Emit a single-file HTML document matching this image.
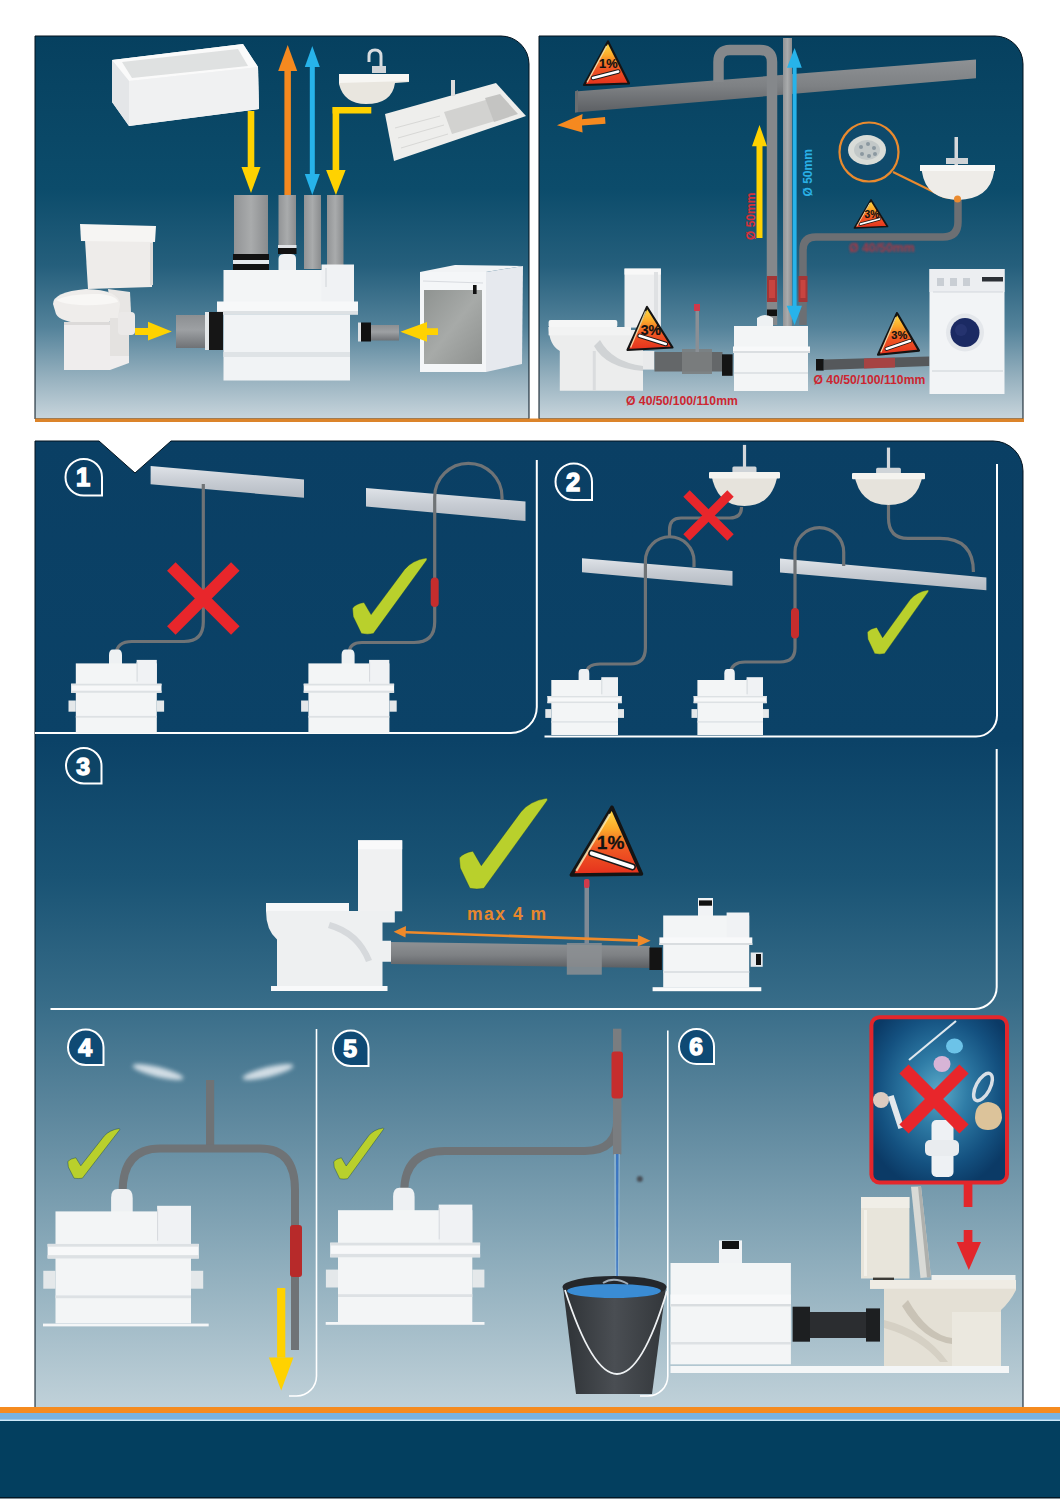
<!DOCTYPE html><html><head><meta charset="utf-8"><style>html,body{margin:0;padding:0;background:#fff;}svg{display:block;}</style></head><body>
<svg width="1060" height="1500" viewBox="0 0 1060 1500">
<defs>
<linearGradient id="bgTop" x1="0" y1="0" x2="0" y2="1">
 <stop offset="0" stop-color="#06405f"/>
 <stop offset="0.40" stop-color="#0c4c6b"/>
 <stop offset="0.60" stop-color="#255f7c"/>
 <stop offset="0.76" stop-color="#53829a"/>
 <stop offset="0.89" stop-color="#95b0be"/>
 <stop offset="1" stop-color="#c8d5dc"/>
</linearGradient>
<linearGradient id="bgLow" x1="0" y1="440" x2="0" y2="1408" gradientUnits="userSpaceOnUse">
 <stop offset="0" stop-color="#0a3f64"/>
 <stop offset="0.31" stop-color="#0b4267"/>
 <stop offset="0.45" stop-color="#195374"/>
 <stop offset="0.58" stop-color="#376c88"/>
 <stop offset="0.70" stop-color="#5e889e"/>
 <stop offset="0.85" stop-color="#8eadbc"/>
 <stop offset="1" stop-color="#c0d1d9"/>
</linearGradient>
<linearGradient id="trig" x1="0" y1="0" x2="0" y2="1">
 <stop offset="0" stop-color="#ffe04a"/>
 <stop offset="0.32" stop-color="#fba92a"/>
 <stop offset="0.6" stop-color="#f05a24"/>
 <stop offset="1" stop-color="#e5301d"/>
</linearGradient>
<linearGradient id="pipeV" x1="0" y1="0" x2="1" y2="0">
 <stop offset="0" stop-color="#929496"/>
 <stop offset="0.5" stop-color="#a9abac"/>
 <stop offset="1" stop-color="#8a8c8e"/>
</linearGradient>
<linearGradient id="pipeH" x1="0" y1="0" x2="0" y2="1">
 <stop offset="0" stop-color="#8c8f92"/>
 <stop offset="0.45" stop-color="#9da0a3"/>
 <stop offset="1" stop-color="#6f7276"/>
</linearGradient>
<linearGradient id="beam" x1="0" y1="0" x2="0" y2="1">
 <stop offset="0" stop-color="#dfe3e8"/>
 <stop offset="0.5" stop-color="#c7ccd3"/>
 <stop offset="1" stop-color="#b5bbc3"/>
</linearGradient>
<radialGradient id="inset" cx="0.5" cy="0.45" r="0.6">
 <stop offset="0" stop-color="#5aa9c8"/>
 <stop offset="0.35" stop-color="#2f7ca6"/>
 <stop offset="0.75" stop-color="#145180"/>
 <stop offset="1" stop-color="#0b3a66"/>
</radialGradient>
<linearGradient id="dwdoor" x1="0" y1="0" x2="1" y2="1">
 <stop offset="0" stop-color="#8f9391"/>
 <stop offset="0.5" stop-color="#a7aaa8"/>
 <stop offset="1" stop-color="#8e918f"/>
</linearGradient>
<linearGradient id="pipeH2" x1="0" y1="0" x2="0" y2="1">
 <stop offset="0" stop-color="#8e9194"/>
 <stop offset="0.5" stop-color="#7e8184"/>
 <stop offset="1" stop-color="#5c5f63"/>
</linearGradient>
<filter id="blur2" x="-50%" y="-50%" width="200%" height="200%"><feGaussianBlur stdDeviation="2.2"/></filter>
<filter id="blur1" x="-50%" y="-50%" width="200%" height="200%"><feGaussianBlur stdDeviation="0.8"/></filter>
<linearGradient id="bucket" x1="0" y1="0" x2="1" y2="0">
 <stop offset="0" stop-color="#2e3236"/>
 <stop offset="0.5" stop-color="#4a4e53"/>
 <stop offset="1" stop-color="#33373b"/>
</linearGradient>
</defs>
<path d="M35,36 L501,36 A28,28 0 0 1 529,64 L529,419 L35,419 Z" fill="url(#bgTop)" stroke="#02121e" stroke-width="1"/>
<polygon points="112,60 243,44 258,67 259,109 129,126 112,102" fill="#f3f4f4"/>
<polygon points="112,60 243,44 258,67 129,81" fill="#fafafa"/>
<polygon points="122,62 238,49 248,66 132,78" fill="#dfe1e1"/>
<polygon points="112,60 129,81 129,126 112,102" fill="#e4e6e8"/>
<polygon points="129,81 258,67 259,109 129,126" fill="#f0f1f2"/>
<rect x="247.7" y="111.0" width="6.6" height="56.0" fill="#ffd200"/><polygon points="241.5,167.0 251.0,193.0 260.5,167.0" fill="#ffd200"/>
<rect x="284.4" y="71.0" width="6.5" height="125.0" fill="#f5891f"/><polygon points="278.2,71.0 287.7,45.0 297.2,71.0" fill="#f5891f"/>
<rect x="309.8" y="67.0" width="5.0" height="107.0" fill="#27b3ea"/><polygon points="304.8,67.0 312.3,46.0 319.8,67.0" fill="#27b3ea"/><polygon points="304.8,174.0 312.3,195.0 319.8,174.0" fill="#27b3ea"/>
<rect x="332.6" y="107" width="38.7" height="6.5" fill="#ffd200"/>
<rect x="332.6" y="107.0" width="6.6" height="63.0" fill="#ffd200"/><polygon points="326.1,170.0 335.9,195.0 345.6,170.0" fill="#ffd200"/>
<path d="M369,62 L369,56 Q369,50 375,50 Q381,50 381,56 L381,70" fill="none" stroke="#d8dcdf" stroke-width="3"/>
<rect x="372" y="66" width="14" height="7" fill="#d0d4d8"/>
<path d="M339,76 L409,75 L409,82 L395,83 Q392,104 366,104 Q344,104 339,84 Z" fill="#e9e6df"/>
<path d="M339,74 L409,74 L409,81 L339,83 Z" fill="#f7f6f3"/>
<polygon points="385,114 496,83 526,116 394,161" fill="#eeeeec"/>
<polygon points="444,112 496,97 505,118 452,134" fill="#d2d2d0"/>
<polygon points="485,98 500,94 518,114 494,122" fill="#c4c4c2"/>
<rect x="451" y="80" width="4" height="16" fill="#dcdcdc"/>
<line x1="395" y1="128" x2="440" y2="116" stroke="#d8d8d6" stroke-width="1"/>
<line x1="398" y1="138" x2="444" y2="125" stroke="#d8d8d6" stroke-width="1"/>
<line x1="401" y1="148" x2="448" y2="134" stroke="#d8d8d6" stroke-width="1"/>
<rect x="234" y="195" width="34" height="59" fill="url(#pipeV)"/>
<rect x="233" y="254" width="36" height="6" fill="#121212"/><rect x="233" y="260" width="36" height="4" fill="#e6e9ec"/><rect x="233" y="264" width="36" height="6" fill="#121212"/>
<rect x="278.5" y="195" width="17.5" height="50" fill="url(#pipeV)"/>
<rect x="278" y="245" width="18.5" height="3" fill="#e0e3e6"/><rect x="278" y="248" width="18.5" height="6" fill="#111"/>
<path d="M278.5,270 L278.5,259 Q278.5,254 284,254 L291,254 Q296,254 296,259 L296,270 Z" fill="#eef1f3"/>
<rect x="304" y="195" width="17" height="74" fill="url(#pipeV)"/>
<rect x="327" y="195" width="16.5" height="70" fill="url(#pipeV)"/>
<rect x="223.5" y="270" width="130.5" height="32" fill="#f3f5f6"/>
<rect x="321.5" y="264.5" width="32.5" height="37" fill="#f0f2f4"/>
<line x1="326" y1="268" x2="326" y2="287" stroke="#d0d4d8" stroke-width="1"/>
<rect x="217" y="301.5" width="141" height="13" fill="#f7f8f9"/>
<rect x="217" y="311" width="141" height="3.5" fill="#dde1e4"/>
<rect x="223.5" y="314.5" width="126.5" height="66" fill="#f1f3f5"/>
<rect x="223.5" y="352" width="126.5" height="5" fill="#dfe3e6"/>
<rect x="176" y="315" width="30" height="33" fill="url(#pipeH)"/>
<rect x="205" y="312" width="4" height="38" fill="#e5e8ea"/><rect x="209" y="312" width="14" height="38" fill="#161616"/>
<rect x="358" y="322.5" width="3" height="19" fill="#e0e3e6"/><rect x="361" y="322.5" width="10" height="19" fill="#111"/>
<rect x="371" y="325" width="28" height="15.5" fill="url(#pipeH)"/>
<polygon points="135,328 148,328 148,321.7 171.8,331.5 148,340.6 148,335 135,335" fill="#ffd200"/>
<path d="M85,240 L153,240 L152,287 L88,289 Z" fill="#eeecea"/>
<path d="M80,224 L156,226 L155,242 L81,241 Z" fill="#f6f5f3"/>
<rect x="150" y="243" width="3" height="42" fill="#dddbd9"/>
<path d="M108,289 L130,292 L131,312 L112,318 Z" fill="#e8e6e4"/>
<path d="M53,304 Q53,292 86,289 Q119,290 120,304 L118,318 Q110,324 86,324 Q60,322 56,314 Z" fill="#efedeb"/>
<path d="M56,300 Q70,293 100,294 Q117,296 118,302 Q100,306 80,305 Q62,304 56,300 Z" fill="#f8f7f5"/>
<path d="M64,322 L110,322 L110,356 L129,354 L129,363 L110,370 L64,370 Z" fill="#efeded"/>
<rect x="110" y="318" width="19" height="38" fill="#e4e2e0"/>
<rect x="118" y="312" width="17" height="23" rx="4" fill="#ebe9e8"/>
<rect x="64" y="322" width="46" height="3" fill="#dcdad9"/>
<polygon points="420,272 455,265 523,266 486,272" fill="#f1f3f5"/>
<polygon points="486,272 523,266 522,364 486,372" fill="#e6e9ee"/>
<rect x="420" y="272" width="66" height="100" fill="#f4f6f8"/>
<rect x="424" y="290" width="58" height="74" fill="#9b9e9d"/>
<rect x="424" y="290" width="58" height="74" fill="url(#dwdoor)"/>
<rect x="473" y="285" width="3.6" height="9" fill="#111"/>
<line x1="423" y1="281" x2="483" y2="283" stroke="#d8dbe0" stroke-width="1"/>
<polygon points="400.4,331.7 427,322 427,328.3 438,328.3 438,335 427,335 427,341.8" fill="#ffd200"/>
<path d="M539,36 L995,36 A28,28 0 0 1 1023,64 L1023,419 L539,419 Z" fill="url(#bgTop)" stroke="#02121e" stroke-width="1"/>
<rect x="35" y="418.5" width="989" height="3.5" fill="#dc842a"/>
<polygon points="575,91.5 976,59.5 976,78.3 575,112.6" fill="url(#pipeH2)"/>
<polygon points="575,91.5 578,90 578,112 575,112.6" fill="#6a6d70"/>
<path d="M718.5,82 L718.5,62 Q718.5,50 730,50 L760,50 Q772,50 772,62 L772,325" fill="none" stroke="#85888b" stroke-width="10.5"/>
<rect x="783" y="38" width="9" height="288" fill="url(#pipeV)"/>
<path d="M958,199 L958,222 Q958,237 943,237 L816,237 Q803,237 803,250 L803,325" fill="none" stroke="#6c6f73" stroke-width="7.5"/>
<rect x="767" y="276" width="10" height="26" fill="#a33636"/><rect x="769" y="280" width="6" height="18" fill="#c8443f"/>
<rect x="798.5" y="276" width="9" height="26" fill="#a33636"/><rect x="800.5" y="280" width="5" height="18" fill="#c8443f"/>
<rect x="767" y="309.5" width="10" height="6.5" fill="#111"/>
<rect x="792.6" y="67" width="4" height="240" fill="#27b3ea"/>
<polygon points="787,67.7 794.6,48 801.8,67.7" fill="#27b3ea"/>
<polygon points="786.7,305.7 794.6,325 802,305.7" fill="#27b3ea"/>
<rect x="756.5" y="145" width="6" height="93" fill="#ffd200"/>
<polygon points="752,146.2 759.5,125 767,146.2" fill="#ffd200"/>
<text transform="translate(754.5,240) rotate(-90)" font-family="Liberation Sans" font-weight="bold" font-size="12" fill="#d8313a">Ø 50mm</text>
<text transform="translate(811.5,196.5) rotate(-90)" font-family="Liberation Sans" font-weight="bold" font-size="12" fill="#2ab0e6">Ø 50mm</text>
<polygon points="557,125.3 582.6,114 582,119.2 605,117 605.5,123.7 582,125.5 582.6,132.4" fill="#f5891f"/>
<polygon points="608,41.5 584,85 629,83.5" fill="url(#trig)" stroke="#141414" stroke-width="2.2" stroke-linejoin="round"/>
<line x1="606.6" y1="45.9" x2="587.1" y2="82.4" stroke="#fff3c0" stroke-width="1.3" opacity="0.8"/>
<text x="608.3" y="67.7" font-family="Liberation Sans" font-weight="bold" font-size="12.8" fill="#111" stroke="#111" stroke-width="0.19" text-anchor="middle">1%</text>
<line x1="593.0" y1="78.0" x2="618.2" y2="71.5" stroke="#1a1a1a" stroke-width="4.5" stroke-linecap="round"/>
<line x1="593.0" y1="78.0" x2="618.2" y2="71.5" stroke="#fff" stroke-width="2.5" stroke-linecap="round"/>
<circle cx="869" cy="152" r="29.5" fill="#0f4a6c" stroke="#ea8a2e" stroke-width="2.2"/>
<ellipse cx="867" cy="150" rx="19" ry="15" fill="#d9dcd8"/>
<ellipse cx="867" cy="150" rx="13" ry="10" fill="#c2c8c8"/>
<g fill="#8b98a0"><circle cx="861" cy="147" r="2"/><circle cx="868" cy="144" r="2"/><circle cx="874" cy="148" r="2"/><circle cx="862" cy="154" r="2"/><circle cx="869" cy="156" r="2"/><circle cx="875" cy="154" r="2"/></g>
<line x1="893" y1="172" x2="944" y2="197" stroke="#ea8a2e" stroke-width="2"/>
<line x1="944" y1="197" x2="957" y2="199" stroke="#ea8a2e" stroke-width="2"/>
<rect x="954.5" y="137" width="3.5" height="30" fill="#d6d9dc"/><rect x="946" y="158" width="22" height="6" fill="#cfd3d6"/>
<path d="M921,166 L994,166 L994,172 Q990,199 958,200 Q926,199 922,172 Z" fill="#eeece8"/>
<rect x="920" y="165" width="75" height="6" fill="#f8f8f6"/>
<circle cx="957.5" cy="199" r="3.5" fill="#ea8a2e"/>
<text x="849" y="251.5" font-family="Liberation Sans" font-weight="bold" font-size="12.3" fill="#c8303a" opacity="0.85" filter="url(#blur1)">Ø 40/50mm</text>
<text x="626" y="405.3" font-family="Liberation Sans" font-weight="bold" font-size="12.2" fill="#cc2630">Ø 40/50/100/110mm</text>
<text x="813.5" y="384.3" font-family="Liberation Sans" font-weight="bold" font-size="12.2" fill="#cc2630">Ø 40/50/100/110mm</text>
<rect x="624.5" y="268.6" width="36.4" height="59" fill="#eeeff0"/>
<rect x="624.5" y="268.6" width="36.4" height="6" fill="#f8f8f8"/>
<rect x="654" y="272" width="4" height="52" fill="#dfe1e3"/>
<rect x="548.6" y="320" width="68.7" height="7.4" rx="2" fill="#f5f6f6"/>
<path d="M548.6,327 L631,327 L631,330 L643,330 L643,390.8 L559.8,390.8 L559.8,351 Q549,345 548.6,327 Z" fill="#eceded"/>
<rect x="548.6" y="327" width="82.4" height="8.3" fill="#f2f3f3"/>
<path d="M600,340 Q612,362 643,366 L643,371 Q606,368 594,346 Z" fill="#d0d3d5"/>
<rect x="592.8" y="351" width="3" height="39.8" fill="#dadcde"/>
<rect x="643" y="351" width="11.3" height="18.6" fill="#e9eaeb"/>
<rect x="654.5" y="352" width="68" height="19.5" fill="#646769"/>
<rect x="682" y="349" width="30" height="25" fill="#7b7e80" opacity="0.9"/>
<rect x="695.5" y="306" width="3.5" height="46" fill="#8a8f95"/>
<rect x="694" y="304" width="6" height="7" fill="#d0394a"/>
<rect x="722" y="354.3" width="10.6" height="21.5" fill="#141414"/>
<rect x="734" y="326" width="74" height="65" fill="#f3f5f6"/>
<rect x="733" y="346.5" width="77" height="6.5" fill="#f8f9fa"/><rect x="733" y="351" width="77" height="2" fill="#dadee1"/>
<rect x="734" y="372" width="74" height="2" fill="#dfe3e6"/>
<path d="M757,326 L757,318 Q765,312 773,318 L773,326 Z" fill="#eef1f3"/>
<polygon points="823.7,359.5 929.4,356.6 929.4,366 823.7,370" fill="#55585b"/>
<polygon points="864,358.5 895,357.7 895,367.5 864,368.6" fill="#b54040" opacity="0.85"/>
<rect x="816" y="359" width="7.7" height="11.6" fill="#141414"/>
<rect x="929.5" y="269" width="75" height="125" fill="#f2f4f6"/>
<rect x="929.5" y="269" width="75" height="23" fill="#eceef1"/>
<rect x="982" y="277" width="21" height="4.5" fill="#2b2f35"/>
<g fill="#c9ced4"><rect x="937" y="278" width="7" height="8"/><rect x="950" y="278" width="7" height="8"/><rect x="963" y="278" width="7" height="8"/></g>
<line x1="933" y1="292" x2="1003" y2="292" stroke="#d3d7dc" stroke-width="1"/>
<circle cx="965" cy="332.5" r="19" fill="#e4e7eb"/><circle cx="965" cy="332.5" r="14.5" fill="#1b2a63"/><circle cx="961" cy="330" r="6" fill="#2d3b78" opacity="0.6"/>
<rect x="932" y="370" width="71" height="2" fill="#dfe3e6"/>
<polygon points="871,200 854.5,228 887.5,226.5" fill="url(#trig)" stroke="#141414" stroke-width="1.7" stroke-linejoin="round"/>
<line x1="870.0" y1="202.8" x2="856.8" y2="226.3" stroke="#fff3c0" stroke-width="1.0" opacity="0.8"/>
<text x="872.0" y="217.7" font-family="Liberation Sans" font-weight="bold" font-size="10.3" fill="#111" stroke="#111" stroke-width="0.15" text-anchor="middle">3%</text>
<line x1="860.4" y1="224.1" x2="879.6" y2="219.0" stroke="#1a1a1a" stroke-width="3.3" stroke-linecap="round"/>
<line x1="860.4" y1="224.1" x2="879.6" y2="219.0" stroke="#fff" stroke-width="1.8" stroke-linecap="round"/>
<polygon points="647,307 627.5,350 672.5,347.5" fill="url(#trig)" stroke="#141414" stroke-width="2.2" stroke-linejoin="round"/>
<line x1="645.6" y1="311.3" x2="630.6" y2="347.4" stroke="#fff3c0" stroke-width="1.3" opacity="0.8"/>
<text x="650.9" y="334.8" font-family="Liberation Sans" font-weight="bold" font-size="14" fill="#111" stroke="#111" stroke-width="0.21" text-anchor="middle">3%</text>
<line x1="639.6" y1="335.8" x2="665.8" y2="344.0" stroke="#1a1a1a" stroke-width="4.5" stroke-linecap="round"/>
<line x1="639.6" y1="335.8" x2="665.8" y2="344.0" stroke="#fff" stroke-width="2.5" stroke-linecap="round"/>
<polygon points="897,313 878,354.7 919,350.6" fill="url(#trig)" stroke="#141414" stroke-width="2.1" stroke-linejoin="round"/>
<line x1="895.8" y1="317.2" x2="880.9" y2="352.2" stroke="#fff3c0" stroke-width="1.2" opacity="0.8"/>
<text x="899.3" y="338.6" font-family="Liberation Sans" font-weight="bold" font-size="11" fill="#111" stroke="#111" stroke-width="0.16" text-anchor="middle">3%</text>
<line x1="886.6" y1="348.9" x2="910.0" y2="340.9" stroke="#1a1a1a" stroke-width="4.1" stroke-linecap="round"/>
<line x1="886.6" y1="348.9" x2="910.0" y2="340.9" stroke="#fff" stroke-width="2.3" stroke-linecap="round"/>
<path d="M35,441 L99,441 L135,473 L171,441 L993,441 A30,30 0 0 1 1023,471 L1023,1408 L35,1408 Z" fill="url(#bgLow)" stroke="#02121e" stroke-width="1"/>
<path d="M536.8,460 L536.8,707 A26,26 0 0 1 510.8,733 L35,733" fill="none" stroke="#fff" stroke-width="2"/>
<path d="M997,464 L997,715.5 A21,21 0 0 1 976,736.5 L544.5,736.5" fill="none" stroke="#fff" stroke-width="2"/>
<path d="M996.7,749 L996.7,987 A22,22 0 0 1 974.7,1009 L50.5,1009" fill="none" stroke="#fff" stroke-width="2"/>
<path d="M316.5,1029 L316.5,1376 A20,20 0 0 1 296.5,1396 L289,1396" fill="none" stroke="#fff" stroke-width="1.6"/>
<path d="M667.8,1030.5 L667.8,1376 A20,20 0 0 1 647.8,1396 L640,1396" fill="none" stroke="#fff" stroke-width="1.6"/>
<path d="M65.5,477.2 A18.2,18.2 0 0 1 83.8,459.0 A18.2,18.2 0 0 1 102.0,477.2 L102.0,495.5 L83.8,495.5 A18.2,18.2 0 0 1 65.5,477.2 Z" fill="none" stroke="#fff" stroke-width="2"/><text x="83.2" y="486.4" font-family="Liberation Sans" font-weight="bold" font-size="25.5" fill="#fff" stroke="#fff" stroke-width="1.4" text-anchor="middle">1</text>
<path d="M555.5,481.8 A18.2,18.2 0 0 1 573.8,463.5 A18.2,18.2 0 0 1 592.0,481.8 L592.0,500.0 L573.8,500.0 A18.2,18.2 0 0 1 555.5,481.8 Z" fill="none" stroke="#fff" stroke-width="2"/><text x="573.2" y="490.9" font-family="Liberation Sans" font-weight="bold" font-size="25.5" fill="#fff" stroke="#fff" stroke-width="1.4" text-anchor="middle">2</text>
<path d="M66.0,765.8 A17.8,17.8 0 0 1 83.8,748.0 A17.8,17.8 0 0 1 101.5,765.8 L101.5,783.5 L83.8,783.5 A17.8,17.8 0 0 1 66.0,765.8 Z" fill="#0d4466" stroke="#fff" stroke-width="2"/><text x="83.2" y="774.7" font-family="Liberation Sans" font-weight="bold" font-size="24.8" fill="#fff" stroke="#fff" stroke-width="1.4" text-anchor="middle">3</text>
<path d="M68.0,1047.2 A17.8,17.8 0 0 1 85.8,1029.5 A17.8,17.8 0 0 1 103.5,1047.2 L103.5,1065.0 L85.8,1065.0 A17.8,17.8 0 0 1 68.0,1047.2 Z" fill="#0f4a74" stroke="#fff" stroke-width="2"/><text x="85.2" y="1056.2" font-family="Liberation Sans" font-weight="bold" font-size="24.8" fill="#fff" stroke="#fff" stroke-width="1.4" text-anchor="middle">4</text>
<path d="M333.0,1048.2 A17.8,17.8 0 0 1 350.8,1030.5 A17.8,17.8 0 0 1 368.5,1048.2 L368.5,1066.0 L350.8,1066.0 A17.8,17.8 0 0 1 333.0,1048.2 Z" fill="#0f4a74" stroke="#fff" stroke-width="2"/><text x="350.2" y="1057.2" font-family="Liberation Sans" font-weight="bold" font-size="24.8" fill="#fff" stroke="#fff" stroke-width="1.4" text-anchor="middle">5</text>
<path d="M679.0,1046.5 A17.5,17.5 0 0 1 696.5,1029.0 A17.5,17.5 0 0 1 714.0,1046.5 L714.0,1064.0 L696.5,1064.0 A17.5,17.5 0 0 1 679.0,1046.5 Z" fill="#0f4a74" stroke="#fff" stroke-width="2"/><text x="696.0" y="1055.3" font-family="Liberation Sans" font-weight="bold" font-size="24.5" fill="#fff" stroke="#fff" stroke-width="1.4" text-anchor="middle">6</text>
<polygon points="150.6,466 304,479.4 304,497.8 150.6,484.3" fill="url(#beam)"/>
<polygon points="366,488 525.5,501.5 525.5,521 366,506.4" fill="url(#beam)"/>
<path d="M203.3,484 L203.3,622 Q203.3,641.5 184,641.5 L132,641.5 Q117,641.5 116,654" fill="none" stroke="#6f7376" stroke-width="3.2"/>
<line x1="171.3" y1="566.4" x2="235.3" y2="630.4" stroke="#e8262b" stroke-width="12"/><line x1="235.3" y1="566.4" x2="171.3" y2="630.4" stroke="#e8262b" stroke-width="12"/>
<path d="M502,500 L502,497 A33,33 0 0 0 434.7,497 L434.7,622 Q434.7,642.5 414,642.5 L362,642.5 Q349,642.5 349,654" fill="none" stroke="#6f7376" stroke-width="3.2"/>
<rect x="430.7" y="577.5" width="8" height="29.5" rx="4" fill="#c62d2d"/>
<path d="M352.5,608.2 Q356.2,603.6 364.0,602.5 L371.1,614.6 L404.6,569.4 Q412.1,560.3 426.3,558.0 Q427.7,558.8 426.6,560.3 L373.4,633.6 Q367.4,634.8 361.4,633.6 L353.2,616.5 Z" fill="#b9d02c" stroke="#0d3a4a" stroke-width="0.8" stroke-opacity="0.5"/>
<path d="M109.0,664.4 L109.0,655.0 Q109.0,649.4 112.9,649.4 L118.1,649.4 Q122.0,649.4 122.0,655.0 L122.0,664.4 Z" fill="#eef1f3"/>
<rect x="75.8" y="663.4" width="81.0" height="70.0" fill="#f3f5f6"/>
<rect x="136.6" y="659.9" width="20.2" height="23.8" fill="#f0f2f4"/>
<rect x="136.6" y="662.0" width="1" height="19.6" fill="#d5d9dd"/>
<rect x="71.1" y="683.7" width="90.4" height="9.1" fill="#f7f8f9"/>
<rect x="71.1" y="683.7" width="90.4" height="1.8" fill="#dde1e4"/>
<rect x="71.1" y="690.7" width="90.4" height="2.1" fill="#dde1e4"/>
<rect x="75.8" y="715.9" width="81.0" height="1.8" fill="#dde1e4"/>
<rect x="68.5" y="700.5" width="7.3" height="11.2" fill="#e4e8ea"/>
<rect x="156.8" y="700.5" width="7.3" height="11.2" fill="#e4e8ea"/>
<path d="M341.6,664.4 L341.6,655.0 Q341.6,649.4 345.5,649.4 L350.7,649.4 Q354.6,649.4 354.6,655.0 L354.6,664.4 Z" fill="#eef1f3"/>
<rect x="308.4" y="663.4" width="81.0" height="70.0" fill="#f3f5f6"/>
<rect x="369.1" y="659.9" width="20.2" height="23.8" fill="#f0f2f4"/>
<rect x="369.1" y="662.0" width="1" height="19.6" fill="#d5d9dd"/>
<rect x="303.7" y="683.7" width="90.4" height="9.1" fill="#f7f8f9"/>
<rect x="303.7" y="683.7" width="90.4" height="1.8" fill="#dde1e4"/>
<rect x="303.7" y="690.7" width="90.4" height="2.1" fill="#dde1e4"/>
<rect x="308.4" y="715.9" width="81.0" height="1.8" fill="#dde1e4"/>
<rect x="301.1" y="700.5" width="7.3" height="11.2" fill="#e4e8ea"/>
<rect x="389.4" y="700.5" width="7.3" height="11.2" fill="#e4e8ea"/>
<polygon points="582,558.2 732.5,571 732.5,585.8 582,572.3" fill="url(#beam)"/>
<polygon points="780,558.5 986.4,577.4 986.4,590.3 780,572.6" fill="url(#beam)"/>
<path d="M741.5,507 Q741.5,518 730,518 L681,518 Q669.5,518 669.5,530 L669.5,537" fill="none" stroke="#6f7376" stroke-width="3.2"/>
<path d="M694,567 L694,561 A24.3,24.3 0 0 0 645.4,561 L645.4,648 Q645.4,664 630,664 L600,664 Q587,664 586.5,673" fill="none" stroke="#6f7376" stroke-width="3.2"/>
<rect x="742.9" y="444.9" width="3.2" height="28.1" fill="#d3d7db"/>
<rect x="732.4" y="466.4" width="24.1" height="6.6" rx="1.5" fill="#cfd4d8"/>
<path d="M711.1,473.0 L777.9,473.0 Q772.9,506 744.5,506 Q716.1,506 711.1,473.0 Z" fill="#e6e3dc"/>
<rect x="709" y="472.0" width="71" height="6.6" rx="1" fill="#f4f3ef"/>
<line x1="686.5" y1="493.5" x2="730.5" y2="537.5" stroke="#e8262b" stroke-width="9"/><line x1="730.5" y1="493.5" x2="686.5" y2="537.5" stroke="#e8262b" stroke-width="9"/>
<path d="M843.7,566 L843.7,552 A24.3,24.3 0 0 0 795,552 L795,648 Q795,662 780,662 L745,662 Q732,662 730,673" fill="none" stroke="#6f7376" stroke-width="3.2"/>
<path d="M888.5,505 L888.5,518 Q888.5,538.4 908,538.4 L940,538.4 Q973.4,538.4 973.4,572" fill="none" stroke="#6f7376" stroke-width="3.2"/>
<rect x="886.9" y="447.6" width="3.2" height="26.3" fill="#d3d7db"/>
<rect x="876.1" y="467.8" width="24.8" height="6.2" rx="1.5" fill="#cfd4d8"/>
<path d="M854.2,474.0 L922.8,474.0 Q917.7,505 888.5,505 Q859.3,505 854.2,474.0 Z" fill="#e6e3dc"/>
<rect x="852" y="473.0" width="73" height="6.2" rx="1" fill="#f4f3ef"/>
<rect x="791" y="608" width="8" height="30.5" rx="4" fill="#c62d2d"/>
<path d="M867.3,632.2 Q870.4,628.4 876.8,627.4 L882.6,637.7 L910.2,599.6 Q916.3,591.9 928.0,590.0 Q929.2,590.6 928.3,591.9 L884.5,653.7 Q879.6,654.6 874.7,653.7 L867.9,639.3 Z" fill="#b9d02c" stroke="#0d3a4a" stroke-width="0.8" stroke-opacity="0.5"/>
<path d="M578.6,681.0 L578.6,673.4 Q578.6,669.0 581.8,669.0 L586.1,669.0 Q589.3,669.0 589.3,673.4 L589.3,681.0 Z" fill="#eef1f3"/>
<rect x="551.3" y="680.0" width="66.7" height="55.0" fill="#f3f5f6"/>
<rect x="601.3" y="677.2" width="16.7" height="18.7" fill="#f0f2f4"/>
<rect x="601.3" y="678.9" width="1" height="15.4" fill="#d5d9dd"/>
<rect x="547.4" y="696.0" width="74.4" height="7.2" fill="#f7f8f9"/>
<rect x="547.4" y="696.0" width="74.4" height="1.4" fill="#dde1e4"/>
<rect x="547.4" y="701.5" width="74.4" height="1.6" fill="#dde1e4"/>
<rect x="551.3" y="721.2" width="66.7" height="1.4" fill="#dde1e4"/>
<rect x="545.3" y="709.1" width="6.0" height="8.8" fill="#e4e8ea"/>
<rect x="618.0" y="709.1" width="6.0" height="8.8" fill="#e4e8ea"/>
<path d="M724.3,681.0 L724.3,673.4 Q724.3,669.0 727.4,669.0 L731.6,669.0 Q734.8,669.0 734.8,673.4 L734.8,681.0 Z" fill="#eef1f3"/>
<rect x="697.4" y="680.0" width="65.6" height="55.0" fill="#f3f5f6"/>
<rect x="746.6" y="677.2" width="16.4" height="18.7" fill="#f0f2f4"/>
<rect x="746.6" y="678.9" width="1" height="15.4" fill="#d5d9dd"/>
<rect x="693.6" y="696.0" width="73.2" height="7.2" fill="#f7f8f9"/>
<rect x="693.6" y="696.0" width="73.2" height="1.4" fill="#dde1e4"/>
<rect x="693.6" y="701.5" width="73.2" height="1.6" fill="#dde1e4"/>
<rect x="697.4" y="721.2" width="65.6" height="1.4" fill="#dde1e4"/>
<rect x="691.5" y="709.1" width="5.9" height="8.8" fill="#e4e8ea"/>
<rect x="763.0" y="709.1" width="5.9" height="8.8" fill="#e4e8ea"/>
<rect x="358" y="840.3" width="44.2" height="71" fill="#f0f1f2"/>
<rect x="358" y="840.3" width="44.2" height="9" fill="#f9f9fa"/>
<path d="M266,903 L349,903 L349,911.4 L266,911.4 Z" fill="#f6f7f8"/>
<path d="M266,911 L394.8,911 L394.8,922.4 L382.5,922.4 L382.5,940.8 L391,940.8 L391,961.7 L382.5,961.7 L382.5,986.2 L277,986.2 L277,939.6 Q266,930 266,911 Z" fill="#eef0f1"/>
<path d="M330,922 Q360,930 372,960 L366,962 Q356,936 328,928 Z" fill="#d6d9dc"/>
<rect x="271" y="986" width="116.5" height="5" fill="#f8f9fa"/>
<polygon points="391,942 650,946 650,968 391,964" fill="url(#pipeH2)"/>
<rect x="566.8" y="943" width="35" height="31.7" fill="#8c8f93" opacity="0.85"/>
<rect x="584.5" y="880" width="4.5" height="64" fill="#7f8a95"/>
<rect x="584" y="879" width="5.5" height="9" rx="2" fill="#d23a4a"/>
<rect x="649.4" y="947.5" width="12.5" height="22.5" fill="#141414"/>
<rect x="698" y="898" width="15" height="18" fill="#f1f3f5"/><rect x="699" y="900.4" width="13" height="5.3" fill="#111"/>
<rect x="663.2" y="915.5" width="86" height="72" fill="#f3f5f6"/>
<rect x="726.6" y="912.5" width="22.6" height="25" fill="#f0f2f4"/>
<rect x="659.4" y="937.4" width="92.9" height="7.6" fill="#f8f9fa"/><rect x="659.4" y="943" width="92.9" height="2" fill="#d9dde0"/>
<rect x="663.2" y="971" width="86" height="2" fill="#dde1e4"/>
<rect x="750.7" y="952.5" width="12" height="14.3" fill="#e6e9ec"/><rect x="756" y="954" width="5" height="11" fill="#111"/>
<rect x="652.6" y="987.2" width="108.7" height="4" fill="#fafbfb"/>
<line x1="400" y1="932" x2="640" y2="940.6" stroke="#ef8a2a" stroke-width="2.6"/>
<polygon points="393.6,931.8 406,926 405.5,937.5" fill="#ef8a2a"/>
<polygon points="650.6,940.8 638,935 637.6,946.5" fill="#ef8a2a"/>
<text x="467" y="920.4" font-family="Liberation Sans" font-weight="bold" font-size="17.5" letter-spacing="1.5" fill="#e8872d">max 4 m</text>
<path d="M459.3,858.0 Q463.7,852.6 472.9,851.2 L481.3,865.7 L520.9,811.9 Q529.7,801.0 546.4,798.3 Q548.2,799.2 546.9,801.0 L483.9,888.3 Q476.9,889.7 469.9,888.3 L460.2,868.0 Z" fill="#b9d02c" stroke="#0d3a4a" stroke-width="0.8" stroke-opacity="0.5"/>
<polygon points="612,807.2 571.3,875 641.5,874" fill="url(#trig)" stroke="#141414" stroke-width="3.5" stroke-linejoin="round"/>
<line x1="609.9" y1="814.0" x2="576.2" y2="870.9" stroke="#fff3c0" stroke-width="2.1" opacity="0.8"/>
<text x="610.6" y="849.3" font-family="Liberation Sans" font-weight="bold" font-size="19" fill="#111" stroke="#111" stroke-width="0.28" text-anchor="middle">1%</text>
<line x1="591.7" y1="853.3" x2="632.4" y2="866.9" stroke="#1a1a1a" stroke-width="7.0" stroke-linecap="round"/>
<line x1="591.7" y1="853.3" x2="632.4" y2="866.9" stroke="#fff" stroke-width="3.9" stroke-linecap="round"/>
<ellipse cx="158" cy="1072" rx="26" ry="5" fill="#e8eef3" opacity="0.85" filter="url(#blur2)" transform="rotate(14 158 1072)"/>
<ellipse cx="268" cy="1072" rx="26" ry="5" fill="#e8eef3" opacity="0.85" filter="url(#blur2)" transform="rotate(-14 268 1072)"/>
<rect x="206" y="1080" width="8.2" height="70" fill="#6f7376"/>
<path d="M122.6,1192 Q122.6,1148.5 160,1148.5 L260,1148.5 Q295,1148.5 295,1190 L295,1350" fill="none" stroke="#6f7376" stroke-width="8"/>
<rect x="290" y="1225" width="12" height="52" rx="3" fill="#b72a2a"/>
<path d="M111.1,1212.4 L111.1,1198.0 Q111.1,1189.0 117.6,1189.0 L126.2,1189.0 Q132.7,1189.0 132.7,1198.0 L132.7,1212.4 Z" fill="#eef1f3"/>
<rect x="55.5" y="1211.4" width="135.5" height="112.0" fill="#f3f5f6"/>
<rect x="157.1" y="1205.8" width="33.9" height="38.1" fill="#f0f2f4"/>
<rect x="157.1" y="1209.2" width="1" height="31.4" fill="#d5d9dd"/>
<rect x="47.6" y="1243.9" width="151.2" height="14.6" fill="#f7f8f9"/>
<rect x="47.6" y="1243.9" width="151.2" height="2.8" fill="#dde1e4"/>
<rect x="47.6" y="1255.1" width="151.2" height="3.4" fill="#dde1e4"/>
<rect x="55.5" y="1295.4" width="135.5" height="2.8" fill="#dde1e4"/>
<rect x="43.3" y="1270.8" width="12.2" height="17.9" fill="#e4e8ea"/>
<rect x="191.0" y="1270.8" width="12.2" height="17.9" fill="#e4e8ea"/>
<rect x="43" y="1323.6" width="165.7" height="2.8" fill="#f4f6f7"/>
<path d="M67.8,1161.5 Q70.4,1158.5 75.9,1157.8 L80.8,1165.8 L104.2,1136.0 Q109.4,1130.0 119.3,1128.5 Q120.3,1129.0 119.5,1130.0 L82.4,1178.2 Q78.2,1179.0 74.0,1178.2 L68.3,1167.0 Z" fill="#b9d02c" stroke="#0d3a4a" stroke-width="0.8" stroke-opacity="0.5"/>
<rect x="277.1" y="1288.0" width="8.2" height="69.6" fill="#ffd200"/><polygon points="268.9,1357.6 281.2,1390.6 293.4,1357.6" fill="#ffd200"/>
<path d="M404.2,1192 Q404.2,1150.9 445,1150.9 L585,1150.9 Q617.2,1150.9 617.2,1120" fill="none" stroke="#6f7376" stroke-width="8"/>
<rect x="613" y="1028.7" width="8.4" height="125.7" fill="#7a7d80"/>
<rect x="611.5" y="1051.4" width="11.5" height="47" rx="3" fill="#c62d2d"/>
<path d="M393.1,1211.2 L393.1,1196.8 Q393.1,1187.8 399.5,1187.8 L408.1,1187.8 Q414.6,1187.8 414.6,1196.8 L414.6,1211.2 Z" fill="#eef1f3"/>
<rect x="338.0" y="1210.2" width="134.3" height="112.0" fill="#f3f5f6"/>
<rect x="438.7" y="1204.6" width="33.6" height="38.1" fill="#f0f2f4"/>
<rect x="438.7" y="1208.0" width="1" height="31.4" fill="#d5d9dd"/>
<rect x="330.2" y="1242.7" width="149.9" height="14.6" fill="#f7f8f9"/>
<rect x="330.2" y="1242.7" width="149.9" height="2.8" fill="#dde1e4"/>
<rect x="330.2" y="1253.9" width="149.9" height="3.4" fill="#dde1e4"/>
<rect x="338.0" y="1294.2" width="134.3" height="2.8" fill="#dde1e4"/>
<rect x="325.9" y="1269.6" width="12.1" height="17.9" fill="#e4e8ea"/>
<rect x="472.3" y="1269.6" width="12.1" height="17.9" fill="#e4e8ea"/>
<rect x="325.7" y="1322" width="158.8" height="2.8" fill="#f4f6f7"/>
<path d="M333.7,1161.7 Q336.2,1158.6 341.4,1157.8 L346.2,1166.0 L368.7,1135.7 Q373.7,1129.5 383.2,1128.0 Q384.2,1128.5 383.4,1129.5 L347.7,1178.7 Q343.7,1179.5 339.7,1178.7 L334.2,1167.3 Z" fill="#b9d02c" stroke="#0d3a4a" stroke-width="0.8" stroke-opacity="0.5"/>
<path d="M614,1154 L620,1154 L619,1282 L615,1282 Z" fill="#9cc4e6" opacity="0.55"/>
<path d="M616,1154 L618.5,1154 L617.8,1282 L616.4,1282 Z" fill="#2f6cc0" opacity="0.85"/>
<circle cx="639.8" cy="1179" r="3" fill="#4a5058" filter="url(#blur1)"/>
<path d="M563,1287 L666,1287 L652,1394 L576,1394 Z" fill="url(#bucket)"/>
<ellipse cx="614.5" cy="1287" rx="52" ry="11" fill="#24272b"/>
<ellipse cx="614" cy="1291" rx="47" ry="7" fill="#3a8cd4"/>
<path d="M603,1283 Q614,1276 628,1284" fill="none" stroke="#d6e6f4" stroke-width="2" opacity="0.7"/>
<path d="M565,1290 Q592,1374 617,1374 Q642,1374 667,1291" fill="none" stroke="#eef1f3" stroke-width="1.8"/>
<rect x="871.4" y="1017.2" width="135.6" height="165.3" rx="8" fill="url(#inset)" stroke="#e3262b" stroke-width="4"/>
<line x1="909" y1="1060" x2="956" y2="1021" stroke="#dfe8ee" stroke-width="2.2"/>
<ellipse cx="954.5" cy="1046" rx="8.5" ry="7.5" fill="#6cc3e8"/>
<ellipse cx="942" cy="1064" rx="8.5" ry="8" fill="#d7b4d6"/>
<ellipse cx="983" cy="1087" rx="7" ry="15" fill="none" stroke="#d8dfe6" stroke-width="3.5" transform="rotate(28 983 1087)"/>
<path d="M975,1118 Q975,1103 988,1102 Q1002,1103 1002,1118 Q1000,1130 988,1130 Q976,1130 975,1118 Z" fill="#dcc39a"/>
<circle cx="881" cy="1100" r="8" fill="#dccbc0"/>
<rect x="893" y="1095" width="6" height="34" fill="#e3e8ec" transform="rotate(-18 896 1112)"/>
<rect x="931.5" y="1120" width="22" height="57" rx="5" fill="#eef1f4"/>
<rect x="925" y="1140" width="34" height="16" rx="5" fill="#e9ecef"/>
<line x1="904" y1="1069" x2="964" y2="1129" stroke="#e8262b" stroke-width="13"/><line x1="964" y1="1069" x2="904" y2="1129" stroke="#e8262b" stroke-width="13"/>
<rect x="963.7" y="1184" width="8.7" height="23" fill="#e3262b"/>
<rect x="963.7" y="1230" width="8.7" height="12" fill="#e3262b"/>
<polygon points="956.7,1242 981,1242 968.8,1270" fill="#e3262b"/>
<rect x="719" y="1240.4" width="23" height="23" fill="#f1f3f5"/><rect x="722" y="1241" width="17" height="8" fill="#111"/>
<rect x="670.5" y="1263" width="120.4" height="101.3" fill="#f3f5f6"/>
<rect x="670.5" y="1294.5" width="120.4" height="12.2" fill="#f8f9fa"/><rect x="670.5" y="1304" width="120.4" height="2.5" fill="#d9dde0"/>
<rect x="670.5" y="1342" width="120.4" height="2.5" fill="#dde1e4"/>
<rect x="792.6" y="1306.7" width="17.4" height="35" fill="#1d1f21"/>
<rect x="810" y="1312" width="59.4" height="26" fill="#2b2d30"/>
<rect x="866" y="1308.4" width="14" height="33.2" fill="#1d1f21"/>
<rect x="861" y="1197" width="48.4" height="81.5" fill="#e8e5db"/>
<rect x="861" y="1197" width="48.4" height="11" fill="#f0eee7"/>
<rect x="864" y="1210" width="3" height="66" fill="#f3f1ea"/>
<rect x="873" y="1277.6" width="21" height="4.4" fill="#3b3a36"/>
<polygon points="911,1186.8 921,1186.6 931,1277 920.5,1278" fill="#d9dad6"/>
<polygon points="918,1186.6 921,1186.6 931,1277 927,1277.5" fill="#aeb0ad"/>
<rect x="931.5" y="1275" width="84" height="7" fill="#eef0ee"/>
<path d="M870,1280 L1016,1280 L1016,1290 Q1010,1302 1001,1310 L1001,1366 L884,1366 L884,1289 L870,1289 Z" fill="#e4e0d5"/>
<rect x="870" y="1280" width="146" height="8.7" fill="#efece4"/>
<path d="M908,1300 Q928,1335 952,1338 L952,1344 Q922,1340 902,1306 Z" fill="#c9c3b6"/>
<path d="M884,1320 Q925,1330 948,1362 L940,1362 Q920,1338 884,1328 Z" fill="#d5d0c4"/>
<rect x="952" y="1312" width="49" height="54" fill="#ebe8df"/>
<rect x="670.5" y="1366" width="338.5" height="7" fill="#f4f6f7"/>
<rect x="0" y="1407" width="1060" height="6" fill="#f58b1f"/>
<rect x="0" y="1413" width="1060" height="7" fill="#78b2df"/>
<rect x="0" y="1419.5" width="1060" height="1.2" fill="#b9e0f7"/>
<rect x="0" y="1421" width="1060" height="77" fill="#033f5f"/>
<rect x="0" y="1497" width="1060" height="1.5" fill="#021826"/>
</svg></body></html>
